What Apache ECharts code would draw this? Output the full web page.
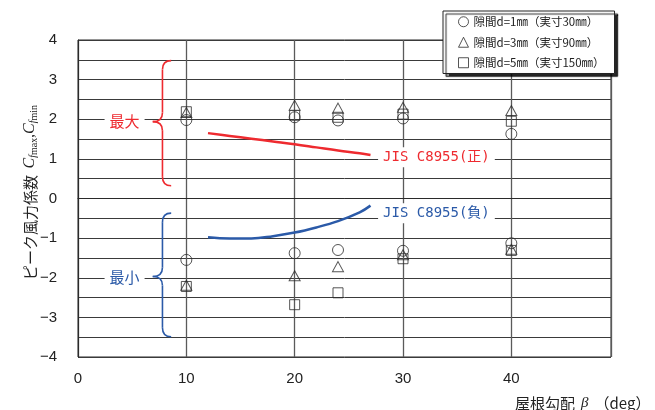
<!DOCTYPE html>
<html><head><meta charset="utf-8">
<script src="https://cdn.jsdelivr.net/npm/echarts@6/dist/echarts.min.js"></script>
<style>html,body{margin:0;padding:0;background:#fff}#c{width:655px;height:410px}</style>
</head><body><div id="c"></div>
<script>
// ---- data ----
const xs = [10, 20, 24, 30, 40];
const d1Max = [1.98, 2.05, 1.97, 2.02, 1.63];
const d3Max = [2.17, 2.35, 2.28, 2.30, 2.22];
const d5Max = [2.19, 2.10, 2.05, 2.13, 1.95];
const d1Min = [-1.55, -1.38, -1.30, -1.32, -1.13];
const d3Min = [-2.19, -1.95, -1.72, -1.42, -1.28];
const d5Min = [-2.22, -2.68, -2.38, -1.52, -1.31];
const jisX = [12, 14, 16, 18, 20, 22, 24, 26, 27];
const jisPos = [1.65, 1.58, 1.51, 1.44, 1.37, 1.29, 1.21, 1.14, 1.10];
const jisNeg = [-0.98, -1.01, -1.01, -0.95, -0.86, -0.73, -0.57, -0.35, -0.18];
const legendNames = ['隙間d=1㎜（実寸30㎜）', '隙間d=3㎜（実寸90㎜）', '隙間d=5㎜（実寸150㎜）'];
const legendIcons = ['circle', 'triangle', 'rect'];
const xTickLabels = [0, 10, 20, 30, 40];

const RED = '#ee2a2f', BLUE = '#2b5aa8', INK = '#2a2a2a';
const zip = (a, b) => a.map((v, i) => [v, b[i]]);

const chart = echarts.init(document.getElementById('c'), null, {renderer: 'canvas'});

function scatter(name, ys, symbol, size) {
  return {
    type: 'scatter', name, data: zip(xs, ys), symbol, symbolSize: size,
    itemStyle: {color: 'rgba(0,0,0,0)', borderColor: INK, borderWidth: 1},
    emphasis: {disabled: true}, z: 3
  };
}
const shapes = [['circle', 11], ['triangle', [11, 10]], ['rect', 10]];

chart.setOption({
  animation: false,
  textStyle: {fontFamily: "'Liberation Sans', 'Noto Sans CJK JP', sans-serif"},
  grid: {left: 78, right: 44, top: 40, bottom: 53, show: true, borderColor: INK, borderWidth: 1, backgroundColor: 'transparent'},
  legend: {
    orient: 'vertical', left: 443, top: 11, selectedMode: false,
    data: legendNames.map((n, i) => ({name: n, icon: legendIcons[i]})),
    itemWidth: 10, itemHeight: 10, itemGap: 9,
    padding: [5, 10, 5, 15],
    itemStyle: {color: 'rgba(0,0,0,0)', borderColor: INK, borderWidth: 1},
    textStyle: {fontFamily: "'Noto Sans CJK JP', sans-serif", fontSize: 11.5, color: '#222'},
    backgroundColor: '#fff', borderColor: '#222', borderWidth: 1,
    shadowColor: 'rgba(0,0,0,0.85)', shadowBlur: 1, shadowOffsetX: 3, shadowOffsetY: 3,
    z: 20
  },
  xAxis: {
    type: 'value', min: 0, max: 49.2, interval: 10,
    axisLine: {show: true, lineStyle: {color: INK, width: 1}},
    axisTick: {show: false},
    splitLine: {show: true, lineStyle: {color: '#5a5a5a', width: 1.3}},
    axisLabel: {
      fontSize: 15, color: '#222', margin: 14, showMaxLabel: false,
      formatter: v => xTickLabels.indexOf(v) >= 0 ? String(v) : ''
    }
  },
  yAxis: {
    type: 'value', min: -4, max: 4, interval: 0.5,
    axisLine: {show: true, lineStyle: {color: INK, width: 1}},
    axisTick: {show: false},
    splitLine: {show: true, lineStyle: {color: '#3a3a3a', width: 1}},
    axisLabel: {
      fontSize: 15, color: '#222', margin: 21,
      formatter: v => Number.isInteger(v) ? String(v).replace('-', '−') : ''
    }
  },
  series: [
    scatter(legendNames[0], d1Max, shapes[0][0], shapes[0][1]),
    scatter(legendNames[1], d3Max, shapes[1][0], shapes[1][1]),
    scatter(legendNames[2], d5Max, shapes[2][0], shapes[2][1]),
    scatter(legendNames[0], d1Min, shapes[0][0], shapes[0][1]),
    scatter(legendNames[1], d3Min, shapes[1][0], shapes[1][1]),
    scatter(legendNames[2], d5Min, shapes[2][0], shapes[2][1]),
    {type: 'line', name: 'JIS正', data: zip(jisX, jisPos), smooth: 0.4, symbol: 'none',
     lineStyle: {color: RED, width: 2.5}, emphasis: {disabled: true}, z: 2},
    {type: 'line', name: 'JIS負', data: zip(jisX, jisNeg), smooth: 0.4, symbol: 'none',
     lineStyle: {color: BLUE, width: 2.5}, emphasis: {disabled: true}, z: 2}
  ]
});

// ---- annotations placed from data coordinates ----
const px = (x, y) => chart.convertToPixel({gridIndex: 0}, [x, y]);
function brace(xTip, xEnd, yTop, yMid, yBot, color) {
  const [tx, ty] = px(xTip, yMid);
  const [ex, top] = px(xEnd, yTop);
  const bot = px(xEnd, yBot)[1];
  const mx = (tx + ex) / 2 + 0.5;
  const r = 9;
  const st = {stroke: color, lineWidth: 1.6, fill: null};
  const q = (x1, y1, cx, cy, x2, y2) => ({type: 'bezierCurve', z: 10, shape: {x1, y1, cpx1: cx, cpy1: cy, x2, y2}, style: st});
  const l = (x1, y1, x2, y2) => ({type: 'line', z: 10, shape: {x1, y1, x2, y2}, style: st});
  return [
    q(ex, top, mx, top, mx, top + r),
    l(mx, top + r, mx, ty - r),
    q(mx, ty - r, mx, ty, tx, ty),
    q(tx, ty, mx, ty, mx, ty + r),
    l(mx, ty + r, mx, bot - r),
    q(mx, bot - r, mx, bot, ex, bot)
  ];
}
function label(x, y, text, color, font, align) {
  const [lx, ly] = px(x, y);
  return {type: 'text', x: lx, y: ly, z: 11,
    style: {text, fill: color, font, align: align || 'center', verticalAlign: 'middle',
            backgroundColor: '#fff', padding: [3, 5, 3, 5]}};
}
const monoFont = "14px 'DejaVu Sans Mono', 'Noto Sans CJK JP', monospace";
const cjkFont = "15px 'Noto Sans CJK JP', sans-serif";
const axisNamePos = px(40.8, -4);
const yNameCenter = px(0, 0.15);
chart.setOption({
  graphic: [].concat(
    brace(6.9, 8.6, 3.48, 1.94, 0.32, RED),
    brace(6.9, 8.6, -0.37, -1.97, -3.49, BLUE),
    [
      label(4.3, 1.95, '最大', RED, cjkFont),
      label(4.3, -1.98, '最小', BLUE, cjkFont),
      label(27.7, 1.04, 'JIS C8955(正)', RED, monoFont, 'left'),
      label(27.7, -0.37, 'JIS C8955(負)', BLUE, monoFont, 'left'),
      {type: 'text', x: axisNamePos[0] - 5, y: axisNamePos[1] + 46, z: 11,
       style: {text: '{j|屋根勾配}{b|β}{j|（deg）}', verticalAlign: 'middle', align: 'left',
         rich: {
           j: {fontFamily: "'Noto Sans CJK JP'", fontSize: 15, fill: '#222'},
           b: {fontFamily: "'Liberation Serif'", fontStyle: 'italic', fontSize: 15, fill: '#222', padding: [0, 6, 0, 6]}
         }}},
      {type: 'text', x: yNameCenter[0] - 48, y: yNameCenter[1], rotation: Math.PI / 2, z: 11,
       style: {text: '{j|ピーク風力係数}  {c|C}{s|f}{t|max}{k|,}{c|C}{s|f}{t|min}',
         align: 'center', verticalAlign: 'middle',
         rich: {
           j: {fontFamily: "'Noto Sans CJK JP'", fontSize: 15, fill: '#222'},
           k: {fontFamily: "'Liberation Serif'", fontSize: 15, fill: '#222'},
           c: {fontFamily: "'Liberation Serif'", fontStyle: 'italic', fontSize: 16, fill: '#222'},
           s: {fontFamily: "'Liberation Serif'", fontStyle: 'italic', fontSize: 10, fill: '#222', padding: [6, 0, 0, 0]},
           t: {fontFamily: "'Liberation Serif'", fontSize: 10, fill: '#222', padding: [8, 0, 0, 0]}
         }}}
    ]
  )
});
</script></body></html>
